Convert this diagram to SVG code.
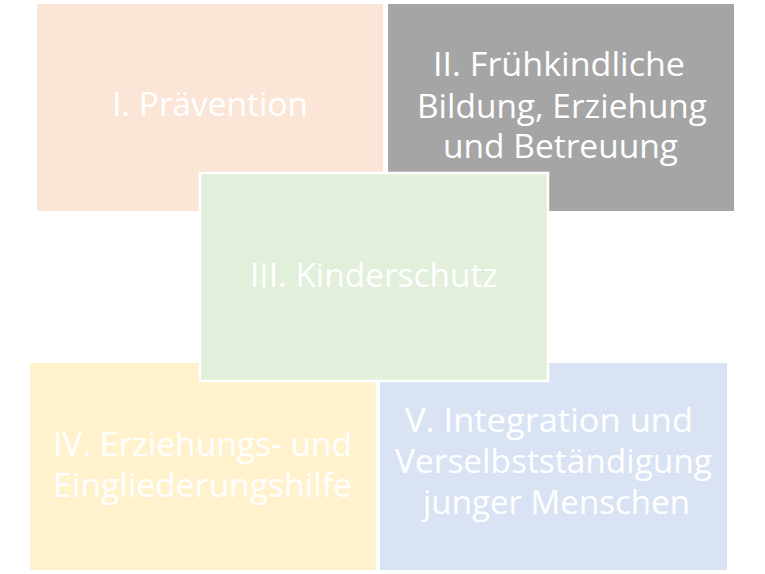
<svg xmlns="http://www.w3.org/2000/svg" width="765" height="574" viewBox="0 0 765 574">
<style>
.t{font-family:"Open Sans","Liberation Sans",sans-serif;font-size:32px;fill:#ffffff;}
</style>
<rect width="765" height="574" fill="#ffffff"/>
<g id="node-I">
<rect x="37" y="4" width="346" height="207" fill="#FBE5D6"/>
<text class="t" x="112" y="116" textLength="196" lengthAdjust="spacingAndGlyphs">I. Prävention</text>
</g>
<g id="node-II">
<rect x="388" y="4" width="346" height="207" fill="#A5A5A5"/>
<text class="t" x="433" y="76" textLength="252" lengthAdjust="spacingAndGlyphs">II. Frühkindliche</text>
<text class="t" x="417" y="118" textLength="290" lengthAdjust="spacingAndGlyphs">Bildung, Erziehung</text>
<text class="t" x="443" y="158" textLength="235" lengthAdjust="spacingAndGlyphs">und Betreuung</text>
</g>
<g id="node-IV">
<rect x="30" y="363" width="346" height="207" fill="#FFF2CC"/>
<text class="t" x="53" y="456" textLength="299" lengthAdjust="spacingAndGlyphs">IV. Erziehungs- und</text>
<text class="t" x="53" y="497" textLength="299" lengthAdjust="spacingAndGlyphs">Eingliederungshilfe</text>
</g>
<g id="node-V">
<rect x="380" y="363" width="347" height="207" fill="#DAE3F3"/>
<text class="t" x="405" y="432" textLength="288" lengthAdjust="spacingAndGlyphs">V. Integration und</text>
<text class="t" x="395" y="473" textLength="317" lengthAdjust="spacingAndGlyphs">Verselbstständigung</text>
<text class="t" x="423" y="514" textLength="267" lengthAdjust="spacingAndGlyphs">junger Menschen</text>
</g>
<g id="node-III">
<rect x="200" y="173" width="348" height="208" fill="#E2EFDA" stroke="#ffffff" stroke-width="2.5"/>
<text class="t" x="250" y="287" textLength="248" lengthAdjust="spacingAndGlyphs">III. Kinderschutz</text>
</g>
<g id="connectors"></g>
</svg>
